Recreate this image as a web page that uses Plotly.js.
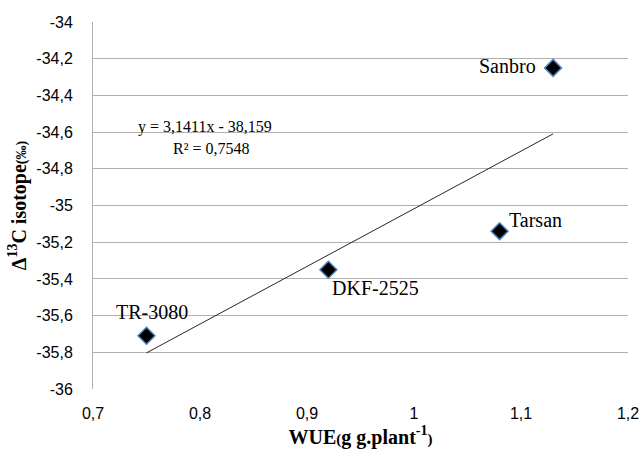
<!DOCTYPE html>
<html>
<head>
<meta charset="utf-8">
<script src="https://cdn.plot.ly/plotly-3.0.1.min.js"></script>
<style>html,body{margin:0;padding:0;background:#fff}#chart{width:641px;height:468px}</style>
</head>
<body>
<div id="chart"></div>
<script>
var genotypes = ["TR-3080", "DKF-2525", "Tarsan", "Sanbro"];
var wue = [0.75, 0.92, 1.08, 1.13];
var delta13C = [-35.71, -35.35, -35.14, -34.25];
var trendSlope = 3.1411;
var trendIntercept = -38.159;
var trendR2 = 0.7548;
var xTickVals = [0.7, 0.8, 0.9, 1.0, 1.1, 1.2];
var xTickText = ["0,7", "0,8", "0,9", "1", "1,1", "1,2"];
var yTickVals = [-36, -35.8, -35.6, -35.4, -35.2, -35, -34.8, -34.6, -34.4, -34.2, -34];
var yTickText = ["-36", "-35,8", "-35,6", "-35,4", "-35,2", "-35", "-34,8", "-34,6", "-34,4", "-34,2", "-34"];

// label placement styles (anchor + pixel offset from the marker)
var labelStyle = [
  {xanchor: "center", xshift: 5, yshift: 24},
  {xanchor: "left", xshift: 2, yshift: -18},
  {xanchor: "left", xshift: 7, yshift: 11},
  {xanchor: "right", xshift: -15, yshift: 2}
];

function fmt(v, d) { return v.toFixed(d).replace(".", ","); }

var xmin = Math.min.apply(null, wue), xmax = Math.max.apply(null, wue);
var trendX = [xmin, xmax];
var trendY = trendX.map(function (x) { return trendSlope * x + trendIntercept; });

var serif = "Liberation Serif, Times New Roman, serif";
var tickFont = "Liberation Sans, Arial, sans-serif";

var traces = [
  {
    x: trendX, y: trendY, mode: "lines", type: "scatter",
    line: {color: "#262626", width: 1}, hoverinfo: "skip", showlegend: false
  },
  {
    x: wue, y: delta13C, mode: "markers", type: "scatter",
    marker: {symbol: "diamond", size: 13, color: "#000", line: {color: "#4F81BD", width: 1.5}},
    showlegend: false
  }
];

var annotations = genotypes.map(function (g, i) {
  return {
    x: wue[i], y: delta13C[i], xref: "x", yref: "y", showarrow: false,
    text: g, xanchor: labelStyle[i].xanchor, yanchor: "middle",
    xshift: labelStyle[i].xshift, yshift: labelStyle[i].yshift,
    font: {family: serif, size: 20, color: "#000"}
  };
});
annotations.push(
  {x: 0.805, y: -34.572, xref: "x", yref: "y", showarrow: false,
   text: "y = " + fmt(trendSlope, 4) + "x - " + fmt(-trendIntercept, 3),
   font: {family: serif, size: 16, color: "#000"}},
  {x: 0.811, y: -34.687, xref: "x", yref: "y", showarrow: false,
   text: "R² = " + fmt(trendR2, 4),
   font: {family: serif, size: 16, color: "#000"}}
);

var layout = {
  width: 641, height: 468,
  margin: {l: 93, r: 13, t: 22, b: 79},
  paper_bgcolor: "#fff", plot_bgcolor: "#fff",
  showlegend: false,
  xaxis: {
    range: [0.7, 1.2], tickvals: xTickVals, ticktext: xTickText,
    showgrid: false, zeroline: false, showline: false,
    ticks: "outside", ticklen: 10, tickcolor: "rgba(0,0,0,0)",
    tickfont: {family: tickFont, size: 16, color: "#000"},
    title: {text: "<b>WUE<span style='font-size:15px'>(</span>g g.plant<sup>-1</sup><span style='font-size:15px'>)</span></b>",
            font: {family: serif, size: 20, color: "#000"}, standoff: 8}
  },
  yaxis: {
    range: [-36, -34], tickvals: yTickVals, ticktext: yTickText,
    showgrid: true, gridcolor: "#b0b0b0", gridwidth: 1, zeroline: false,
    showline: true, linecolor: "#b0b0b0", linewidth: 1,
    ticks: "outside", ticklen: 16, tickcolor: "rgba(0,0,0,0)",
    tickfont: {family: tickFont, size: 16, color: "#000"},
    title: {text: "<b>Δ<sup>13</sup>C isotope<span style='font-size:14px'>(‰)</span></b>",
            font: {family: serif, size: 20, color: "#000"}, standoff: 4}
  },
  annotations: annotations
};

Plotly.newPlot("chart", traces, layout, {displayModeBar: false, staticPlot: true});
</script>
</body>
</html>
